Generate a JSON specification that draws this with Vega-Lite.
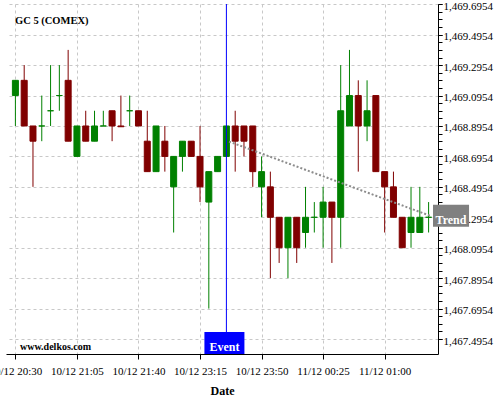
{
  "$schema": "https://vega.github.io/schema/vega-lite/v6.json",
  "autosize": "none",
  "width": 432,
  "height": 350,
  "padding": {"left": 6, "top": 4, "right": 62, "bottom": 46},
  "background": "white",
  "config": {"view": {"stroke": null}, "font": "Liberation Serif"},
  "resolve": {"axis": {"y": "independent"}, "scale": {"y": "shared"}},
  "datasets": {
    "candles": [
      {"i":0,"open":1469.0954,"high":1469.1954,"low":1468.8954,"close":1469.1954},
      {"i":1,"open":1469.1954,"high":1469.2954,"low":1468.8954,"close":1468.8954},
      {"i":2,"open":1468.8954,"high":1468.8954,"low":1468.4954,"close":1468.7954},
      {"i":3,"open":1468.8954,"high":1469.0954,"low":1468.7954,"close":1468.8954},
      {"i":4,"open":1468.9954,"high":1469.2954,"low":1468.8954,"close":1468.9954},
      {"i":5,"open":1469.0954,"high":1469.2954,"low":1468.9954,"close":1469.0954},
      {"i":6,"open":1469.1954,"high":1469.3954,"low":1468.7954,"close":1468.7954},
      {"i":7,"open":1468.6954,"high":1468.8954,"low":1468.6954,"close":1468.8954},
      {"i":8,"open":1468.8954,"high":1468.9954,"low":1468.7954,"close":1468.7954},
      {"i":9,"open":1468.7954,"high":1468.9954,"low":1468.7954,"close":1468.8954},
      {"i":10,"open":1468.8954,"high":1468.9954,"low":1468.8954,"close":1468.8954},
      {"i":11,"open":1468.9954,"high":1468.9954,"low":1468.7954,"close":1468.8954},
      {"i":12,"open":1468.8954,"high":1469.0954,"low":1468.8904,"close":1468.8904},
      {"i":13,"open":1468.9954,"high":1469.0954,"low":1468.8954,"close":1468.9954},
      {"i":14,"open":1468.9954,"high":1468.9954,"low":1468.8954,"close":1468.8954},
      {"i":15,"open":1468.7954,"high":1468.9954,"low":1468.5954,"close":1468.5954},
      {"i":16,"open":1468.5954,"high":1468.8954,"low":1468.5954,"close":1468.8954},
      {"i":17,"open":1468.7954,"high":1468.8954,"low":1468.5954,"close":1468.6954},
      {"i":18,"open":1468.4954,"high":1468.6954,"low":1468.1954,"close":1468.6954},
      {"i":19,"open":1468.6954,"high":1468.7954,"low":1468.5954,"close":1468.7954},
      {"i":20,"open":1468.7954,"high":1468.7954,"low":1468.6954,"close":1468.6954},
      {"i":21,"open":1468.6954,"high":1468.8954,"low":1468.3954,"close":1468.4954},
      {"i":22,"open":1468.3954,"high":1468.5954,"low":1467.6954,"close":1468.5954},
      {"i":23,"open":1468.5954,"high":1468.6954,"low":1468.5954,"close":1468.6954},
      {"i":24,"open":1468.6954,"high":1468.8954,"low":1468.6954,"close":1468.8954},
      {"i":25,"open":1468.8954,"high":1468.9954,"low":1468.5954,"close":1468.7954},
      {"i":26,"open":1468.8954,"high":1468.8954,"low":1468.6954,"close":1468.7954},
      {"i":27,"open":1468.8954,"high":1468.8954,"low":1468.4954,"close":1468.5954},
      {"i":28,"open":1468.4954,"high":1468.6954,"low":1468.2954,"close":1468.5954},
      {"i":29,"open":1468.4954,"high":1468.5954,"low":1467.8954,"close":1468.2954},
      {"i":30,"open":1468.2954,"high":1468.2954,"low":1467.9954,"close":1468.0954},
      {"i":31,"open":1468.0954,"high":1468.2954,"low":1467.8954,"close":1468.2954},
      {"i":32,"open":1468.2954,"high":1468.2954,"low":1467.9954,"close":1468.0954},
      {"i":33,"open":1468.1954,"high":1468.4954,"low":1468.0954,"close":1468.2954},
      {"i":34,"open":1468.2954,"high":1468.3954,"low":1468.1954,"close":1468.2954},
      {"i":35,"open":1468.2954,"high":1468.4954,"low":1468.0954,"close":1468.3954},
      {"i":36,"open":1468.3954,"high":1468.3954,"low":1467.9954,"close":1468.2954},
      {"i":37,"open":1468.2954,"high":1469.2954,"low":1468.0954,"close":1468.9954},
      {"i":38,"open":1468.8954,"high":1469.3954,"low":1468.8954,"close":1469.0954},
      {"i":39,"open":1469.0954,"high":1469.1954,"low":1468.5954,"close":1468.8954},
      {"i":40,"open":1468.8954,"high":1469.1954,"low":1468.7954,"close":1468.9954},
      {"i":41,"open":1469.0954,"high":1469.0954,"low":1468.5954,"close":1468.5954},
      {"i":42,"open":1468.5954,"high":1468.5954,"low":1468.1954,"close":1468.4954},
      {"i":43,"open":1468.4954,"high":1468.5954,"low":1468.2954,"close":1468.2954},
      {"i":44,"open":1468.2954,"high":1468.2954,"low":1468.0954,"close":1468.0954},
      {"i":45,"open":1468.1954,"high":1468.4954,"low":1468.0954,"close":1468.2954},
      {"i":46,"open":1468.1954,"high":1468.4954,"low":1468.1954,"close":1468.2954},
      {"i":47,"open":1468.2954,"high":1468.3954,"low":1468.1954,"close":1468.2954}
    ],
    "trend": [
      {"i":24.3,"price":1468.793},
      {"i":47.2,"price":1468.305}
    ]
  },
  "layer": [
    {
      "data": {"name": "candles"},
      "mark": {"type": "rule", "strokeWidth": 1},
      "encoding": {
        "x": {
          "field": "i", "type": "quantitative",
          "scale": {"domain": [-0.5, 47.5], "nice": false, "zero": false},
          "axis": {
            "orient": "bottom",
            "title": "Date",
            "titleFont": "Liberation Serif", "titleFontSize": 12, "titleFontWeight": "bold", "titleColor": "black", "titlePadding": 9,
            "values": [0,1.75,3.5,5.25,7,8.75,10.5,12.25,14,15.75,17.5,19.25,21,22.75,24.5,26.25,28,29.75,31.5,33.25,35,36.75,38.5,40.25,42,43.75,45.5,47.25],
            "labelExpr": "datum.value % 7 === 0 ? ['10/12 20:30','10/12 21:05','10/12 21:40','10/12 23:15','10/12 23:50','11/12 00:25','11/12 01:00'][datum.value / 7] : ''",
            "labelOverlap": false, "labelFlush": false, "labelBound": false, "labelSeparation": 0,
            "labelFont": "Liberation Serif", "labelFontSize": 11, "labelColor": "black", "labelPadding": 6,
            "domainColor": "black", "domainWidth": 1,
            "tickColor": "black", "tickSize": 5, "tickWidth": 1,
            "grid": true, "gridColor": "#c8c8c8", "gridDash": [3, 3],
            "gridOpacity": {"condition": {"test": "datum.value % 7 === 0", "value": 1}, "value": 0}
          }
        },
        "y": {
          "field": "low", "type": "quantitative",
          "scale": {"domain": [1467.397, 1469.697], "nice": false, "zero": false},
          "axis": {
            "orient": "right",
            "title": null,
            "values": [1467.4954,1467.6954,1467.8954,1468.0954,1468.2954,1468.4954,1468.6954,1468.8954,1469.0954,1469.2954,1469.4954,1469.6954],
            "format": ",.4f",
            "labelOverlap": false, "labelFlush": false, "labelBound": false, "labelSeparation": 0,
            "labelFont": "Liberation Serif", "labelColor": "black", "labelPadding": 1, "labelFontSize": 11, "labelOffset": 2,
            "domainColor": "black", "domainWidth": 1,
            "tickColor": "black", "tickSize": 4, "tickWidth": 1,
            "grid": true, "gridColor": "#c8c8c8", "gridDash": [3, 3]
          }
        },
        "y2": {"field": "high"},
        "color": {
          "condition": {"test": "datum.close >= datum.open", "value": "#008000"},
          "value": "#800000"
        }
      }
    },
    {
      "data": {"name": "candles"},
      "mark": {"type": "bar", "width": 6, "strokeWidth": 1},
      "encoding": {
        "x": {"field": "i", "type": "quantitative"},
        "y": {
          "field": "open", "type": "quantitative",
          "axis": {
            "orient": "right",
            "title": null,
            "values": [1467.4954,1467.5454,1467.5954,1467.6454,1467.6954,1467.7454,1467.7954,1467.8454,1467.8954,1467.9454,1467.9954,1468.0454,1468.0954,1468.1454,1468.1954,1468.2454,1468.2954,1468.3454,1468.3954,1468.4454,1468.4954,1468.5454,1468.5954,1468.6454,1468.6954,1468.7454,1468.7954,1468.8454,1468.8954,1468.9454,1468.9954,1469.0454,1469.0954,1469.1454,1469.1954,1469.2454,1469.2954,1469.3454,1469.3954,1469.4454,1469.4954,1469.5454,1469.5954,1469.6454,1469.6954],
            "labels": false, "grid": false, "domain": false,
            "tickColor": "black", "tickSize": 4, "tickWidth": 1
          }
        },
        "y2": {"field": "close"},
        "color": {
          "condition": {"test": "datum.close >= datum.open", "value": "#008000"},
          "value": "#800000"
        },
        "stroke": {
          "condition": {"test": "datum.close >= datum.open", "value": "#008000"},
          "value": "#800000"
        },
        "opacity": {"value": 1}
      }
    },
    {
      "data": {"name": "trend"},
      "mark": {"type": "line", "color": "#8c8c8c", "strokeWidth": 2, "strokeDash": [2, 2]},
      "encoding": {
        "x": {"field": "i", "type": "quantitative"},
        "y": {"field": "price", "type": "quantitative", "axis": null}
      }
    },
    {
      "data": {"values": [{}]},
      "mark": {"type": "rule", "color": "#0000ff", "strokeWidth": 1},
      "encoding": {
        "x": {"datum": 24}
      }
    },
    {
      "data": {"values": [{}]},
      "mark": {"type": "rect", "color": "#0000ff", "opacity": 1},
      "encoding": {
        "x": {"datum": 21.5},
        "x2": {"datum": 26.05},
        "y": {"datum": 1467.397, "axis": null},
        "y2": {"datum": 1467.5416}
      }
    },
    {
      "data": {"values": [{"label": "Event"}]},
      "mark": {"type": "text", "font": "Liberation Serif", "fontSize": 12, "fontWeight": "bold", "color": "white", "align": "center", "baseline": "alphabetic", "dx": -2, "dy": -3},
      "encoding": {
        "x": {"datum": 24},
        "y": {"datum": 1467.397, "axis": null},
        "text": {"field": "label"}
      }
    },
    {
      "data": {"values": [{}]},
      "mark": {"type": "rect", "color": "#808080", "opacity": 1},
      "encoding": {
        "x": {"datum": 47.5},
        "x2": {"datum": 51.6},
        "y": {"datum": 1468.2339, "axis": null},
        "y2": {"datum": 1468.3784}
      }
    },
    {
      "data": {"values": [{"label": "Trend"}]},
      "mark": {"type": "text", "font": "Liberation Serif", "fontSize": 12, "fontWeight": "bold", "color": "white", "align": "center", "baseline": "alphabetic"},
      "encoding": {
        "x": {"datum": 49.55},
        "y": {"datum": 1468.253, "axis": null},
        "text": {"field": "label"}
      }
    },
    {
      "data": {"values": [{"label": "GC 5 (COMEX)"}]},
      "mark": {"type": "text", "font": "Liberation Serif", "fontSize": 10.5, "fontWeight": "bold", "color": "black", "align": "left", "baseline": "alphabetic", "dx": 4, "dy": 20},
      "encoding": {
        "x": {"datum": -0.5},
        "y": {"datum": 1469.697, "axis": null},
        "text": {"field": "label"}
      }
    },
    {
      "data": {"values": [{"label": "www.delkos.com"}]},
      "mark": {"type": "text", "font": "Liberation Serif", "fontSize": 10, "fontWeight": "bold", "color": "black", "align": "left", "baseline": "alphabetic", "dx": 9, "dy": -4},
      "encoding": {
        "x": {"datum": -0.5},
        "y": {"datum": 1467.397, "axis": null},
        "text": {"field": "label"}
      }
    }
  ]
}
